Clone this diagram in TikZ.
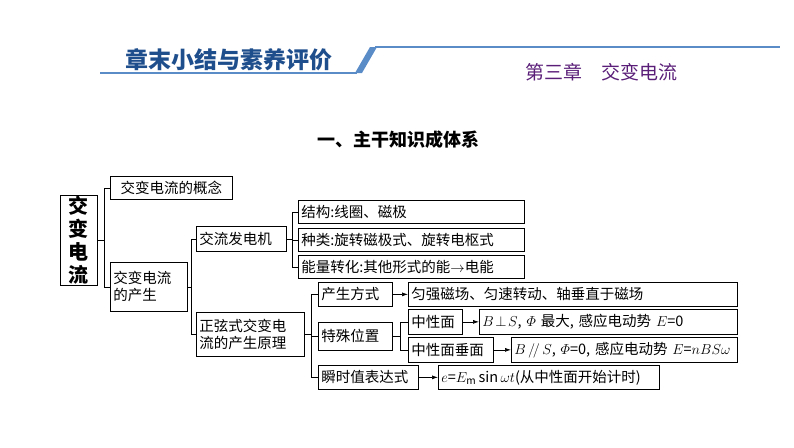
\documentclass[tikz,border=0pt]{standalone}
\usepackage{amsmath}
\usepackage{fontspec}
\setmainfont{Noto Sans CJK SC}
\usetikzlibrary{arrows.meta}
\definecolor{titleblue}{RGB}{31,78,140}
\definecolor{barblue}{RGB}{90,140,200}
\definecolor{chappurple}{RGB}{90,30,120}
\tikzset{
  kbox/.style={draw, line width=0.7pt, anchor=north west, inner xsep=3pt, inner ysep=0pt,
    align=left, font=\fontsize{14.5}{17}\selectfont},
  link/.style={line width=0.7pt},
  arr/.style={line width=0.7pt, -{Latex[length=6pt,width=4pt]}}
}
\begin{document}
\begin{tikzpicture}[x=1pt,y=-1pt]
\useasboundingbox (0,0) rectangle (794,447);
% header
\node[font=\fontsize{23}{23}\selectfont\bfseries, text=titleblue, anchor=west] (title) at (122,60) {章末小结与素养评价};
\draw[barblue, line width=1.2pt] (100,73) -- (357,73);
\fill[barblue] (355,73) -- (362,73) -- (377,47) -- (370,47) -- cycle;
\draw[barblue, line width=1.2pt] (375,47) -- (780,47);
\node[font=\fontsize{19}{19}\selectfont, text=chappurple, anchor=west] (chap) at (522,72) {第三章\quad 交变电流};
\node[font=\fontsize{18}{18}\selectfont\bfseries, anchor=center] (sub) at (398,140) {一、主干知识成体系};

% boxes
\node[kbox, minimum width=37, minimum height=90, align=center, inner xsep=0pt, font=\fontsize{20}{23}\selectfont\bfseries] (root) at (60,195) {交\\变\\电\\流};
\node[kbox, minimum width=122, minimum height=23] (cpt) at (110,176) {交变电流的概念};
\node[kbox, text width=71, minimum height=49] (gen) at (110,262) {交变电流\\的产生};
\node[kbox, text width=84, minimum height=25] (alt) at (196,226) {交流发电机};
\node[kbox, text width=102, minimum height=44] (sinp) at (196,312) {正弦式交变电\\流的产生原理};
\node[kbox, text width=220, minimum height=23] (strc) at (298,200) {结构:线圈、磁极};
\node[kbox, text width=220, minimum height=23] (kind) at (298,228) {种类:旋转磁极式、旋转电枢式};
\node[kbox, text width=220, minimum height=23] (enrg) at (298,255) {能量转化:其他形式的能$\rightarrow$电能};
\node[kbox, text width=68, minimum height=24] (way) at (318,282) {产生方式};
\node[kbox, text width=323, minimum height=24] (wayd) at (408,282) {匀强磁场、匀速转动、轴垂直于磁场};
\node[kbox, text width=68, minimum height=28] (spec) at (318,322) {特殊位置};
\node[kbox, text width=48, minimum height=25] (neu) at (408,309) {中性面};
\node[kbox, text width=252, minimum height=25] (neud) at (479,309) {$B\!\perp\!S$, $\varPhi$ 最大, 感应电动势 $E$=0};
\node[kbox, text width=79, minimum height=25] (perp) at (408,337) {中性面垂面};
\node[kbox, text width=220, minimum height=25] (perpd) at (511,337) {$B\,/\!/\,S$, $\varPhi$=0, 感应电动势 $E$=$nBS\omega$};
\node[kbox, text width=94, minimum height=24] (inst) at (318,365) {瞬时值表达式};
\node[kbox, text width=215, minimum height=24] (instd) at (438,365) {$e$=$E_{\mathrm{m}}\sin\omega t$(从中性面开始计时)};

% brackets
\draw[link] (root.east) -| ([xshift=-6]cpt.west) -- (cpt.west);
\draw[link] (root.east) -| ([xshift=-6]gen.west) -- (gen.west);
\draw[link] (gen.east) -| ([xshift=-5]alt.west) -- (alt.west);
\draw[link] (gen.east) -| ([xshift=-5]sinp.west) -- (sinp.west);
\foreach \c in {strc,kind,enrg}
  \draw[link] (alt.east) -| ([xshift=-6]\c.west) -- (\c.west);
\foreach \c in {way,spec,inst}
  \draw[link] (sinp.east) -| ([xshift=-7]\c.west) -- (\c.west);
\foreach \c in {neu,perp}
  \draw[link] (spec.east) -| ([xshift=-8]\c.west) -- (\c.west);

% arrows
\draw[arr] (way) -- (wayd);
\draw[arr] (neu) -- (neud);
\draw[arr] (perp) -- (perpd);
\draw[arr] (inst) -- (instd);
\end{tikzpicture}
\end{document}
